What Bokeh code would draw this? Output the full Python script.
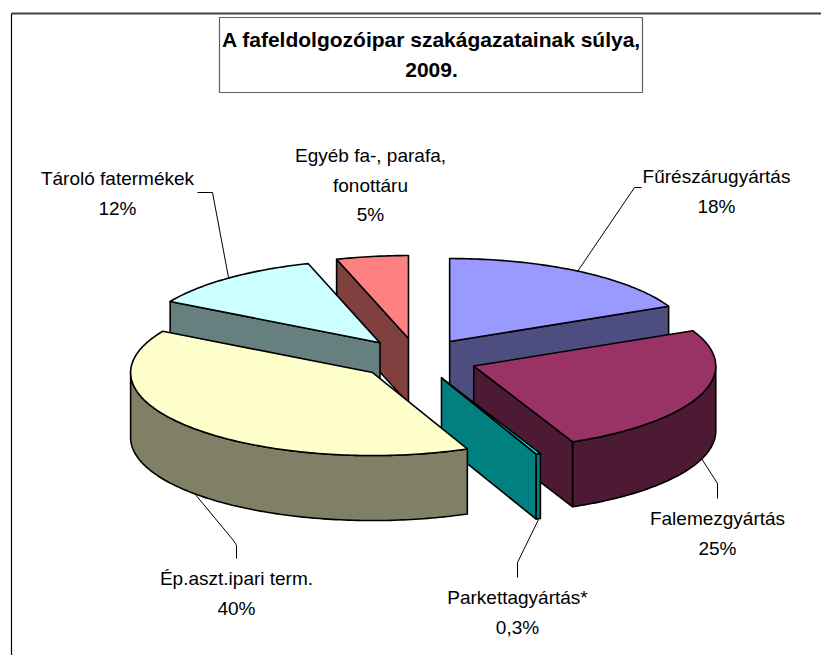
import numpy as np
from bokeh.embed import file_html
from bokeh.models import Range1d
from bokeh.plotting import figure
from bokeh.resources import INLINE
from bokeh.core.properties import value

# data
names = ["Fűrészárugyártás", "Falemezgyártás", "Parkettagyártás*", "Ép.aszt.ipari term.", "Tároló fatermékek", "Egyéb fa-, parafa,\nfonottáru"]
shares = [18.0, 25.3, 0.3, 39.7, 11.9, 4.8]
share_labels = ["18%", "25%", "0,3%", "40%", "12%", "5%"]
top_colors = ["#9999FF", "#993366", "#00FFFF", "#FFFFCC", "#CCFFFF", "#FF8080"]
side_colors = ["#4D4D80", "#4D1A33", "#008080", "#808066", "#668080", "#804040"]
title_lines = ["A fafeldolgozóipar szakágazatainak súlya,", "2009."]

# layout
CX, CY, RX, RY, DEPTH, EXPLODE = 417.0, 358.4, 242.0, 83.0, 65.0, 60.0
draw_order = [5, 4, 0, 1, 2, 3]
label_centers = [(716, 176), (717, 518), (517, 597), (236, 578), (117, 178), (370, 155)]
LINE_STEP = 29.5
leaders = [
    [(577, 271), (634, 187), (641, 187)],
    [(701, 458), (717, 483), (717, 498)],
    [(538, 519), (517, 562), (517, 577)],
    [(194, 493), (233, 540), (236, 545), (236, 558)],
    [(228, 277), (212, 192), (197, 192)],
]

p = figure(width=821, height=655, x_range=Range1d(0, 821), y_range=Range1d(655, 0),
           toolbar_location=None, output_backend="svg", min_border=0)
p.xaxis.visible = False
p.yaxis.visible = False
p.grid.visible = False
p.outline_line_color = None

p.line([11, 11], [13, 655], line_color="#000000", line_width=1.2)
p.line([11, 821], [13, 13], line_color="#404040", line_width=2.2)

p.quad(left=[219], right=[642], top=[17], bottom=[92], fill_color="#FFFFFF", line_color="#606060", line_width=1.2)
for i, t in enumerate(title_lines):
    p.text([431], [39 + i * 30], text=[t], text_font=value("Liberation Sans"), text_font_style="bold",
           text_font_size="21px", text_align="center", text_baseline="middle", text_color="#000000")

fracs = np.array(shares) / sum(shares)
edges = np.concatenate([[0.0], np.cumsum(fracs)]) * 2 * np.pi


def piece(xs, ys, fill):
    p.patch(list(xs), list(ys), fill_color=fill, line_color="#000000", line_width=1.6, line_join="round")


for i in draw_order:
    a, b = edges[i], edges[i + 1]
    mid = (a + b) / 2
    ax = CX + EXPLODE * np.sin(mid)
    ay = CY - EXPLODE * np.cos(mid) * RY / RX
    t = np.linspace(a, b, max(3, int(np.degrees(b - a)) + 2))
    rimx = ax + RX * np.sin(t)
    rimy = ay - RY * np.cos(t)
    # radial wall that faces the viewer
    if np.sin(b) > 0:
        ex, ey = rimx[-1], rimy[-1]
        piece([ax, ex, ex, ax], [ay, ey, ey + DEPTH, ay + DEPTH], side_colors[i])
    if np.sin(a) < 0:
        ex, ey = rimx[0], rimy[0]
        piece([ax, ex, ex, ax], [ay, ey, ey + DEPTH, ay + DEPTH], side_colors[i])
    # outer wall, front half only
    lo, hi = max(a, np.pi / 2), min(b, 3 * np.pi / 2)
    if hi > lo:
        w = np.linspace(lo, hi, max(3, int(np.degrees(hi - lo)) + 2))
        wx = ax + RX * np.sin(w)
        wy = ay - RY * np.cos(w)
        piece(np.concatenate([wx, wx[::-1]]), np.concatenate([wy, wy[::-1] + DEPTH]), side_colors[i])
    piece(np.concatenate([[ax], rimx]), np.concatenate([[ay], rimy]), top_colors[i])

for seg in leaders:
    p.line([q[0] for q in seg], [q[1] for q in seg], line_color="#000000", line_width=1)

for (x, y), n, s in zip(label_centers, names, share_labels):
    for k, t in enumerate(n.split("\n") + [s]):
        p.text([x], [y + k * LINE_STEP], text=[t], text_font=value("Liberation Sans"), text_font_size="19px",
               text_align="center", text_baseline="middle", text_color="#000000")

open("out.html", "w").write(file_html(p, INLINE))
